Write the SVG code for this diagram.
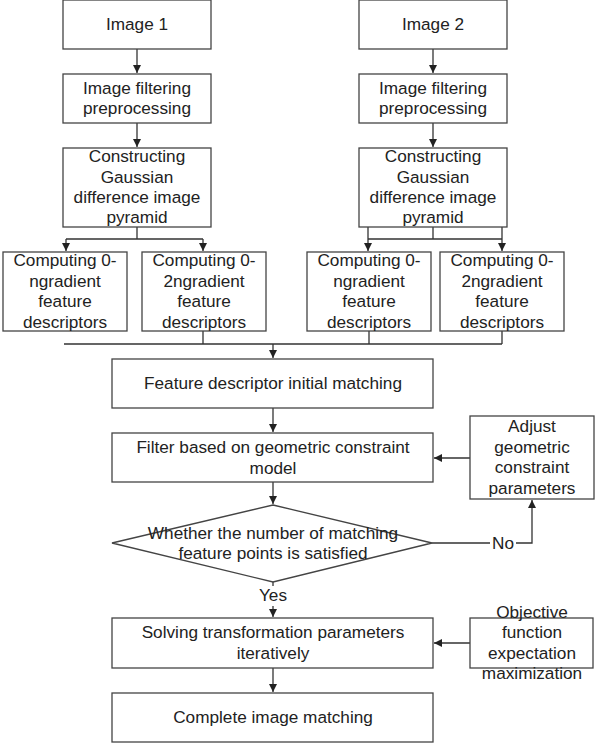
<svg xmlns="http://www.w3.org/2000/svg" width="599" height="747" viewBox="0 0 599 747">
<style>
.b{fill:#fff;stroke:#444;stroke-width:1.3}
.t{font-family:"Liberation Sans",Arial,sans-serif;font-size:17.2px;fill:#222;text-anchor:middle}
.c{fill:none;stroke:#333;stroke-width:1.3}
</style>
<defs>
<marker id="a" viewBox="0 0 10 10" refX="10" refY="5" markerWidth="8" markerHeight="8" markerUnits="userSpaceOnUse" orient="auto">
<path d="M0,0 L10,5 L0,10 Z" fill="#222"/>
</marker>
</defs>
<rect width="599" height="747" fill="#fff"/>
<g id="connectors">
<path class="c" d="M137,49 V73" marker-end="url(#a)"/>
<path class="c" d="M137,123 V147" marker-end="url(#a)"/>
<path class="c" d="M433,49 V73" marker-end="url(#a)"/>
<path class="c" d="M433,123 V147" marker-end="url(#a)"/>
<path class="c" d="M137,227 V239 M66,239 H203"/>
<path class="c" d="M66,239 V251" marker-end="url(#a)"/>
<path class="c" d="M203,239 V251" marker-end="url(#a)"/>
<path class="c" d="M433,227 V239 M368,239 H502"/>
<path class="c" d="M368,227 V251" marker-end="url(#a)"/>
<path class="c" d="M502,227 V251" marker-end="url(#a)"/>
<path class="c" d="M203,331 V344 M369,331 V344 M502,331 V344 M64,344 H502"/>
<path class="c" d="M273,344 V358" marker-end="url(#a)"/>
<path class="c" d="M273,408 V432" marker-end="url(#a)"/>
<path class="c" d="M470,458 H434" marker-end="url(#a)"/>
<path class="c" d="M273,482 V504" marker-end="url(#a)"/>
<path class="c" d="M432,543 H490 M516,543 H532 V500" marker-end="url(#a)"/>
<path class="c" d="M273,582 V586"/>
<path class="c" d="M273,606 V617" marker-end="url(#a)"/>
<path class="c" d="M470,643 H434" marker-end="url(#a)"/>
<path class="c" d="M273,668 V692" marker-end="url(#a)"/>
<text class="t" x="503" y="549">No</text>
<text class="t" x="273" y="601">Yes</text>
</g>
<g id="img1"><rect class="b" x="63" y="0" width="148" height="49"/><text class="t" x="137" y="30">Image 1</text></g>
<g id="img2"><rect class="b" x="359" y="0" width="148" height="49"/><text class="t" x="433" y="30">Image 2</text></g>
<g id="filt1"><rect class="b" x="63" y="74" width="148" height="49"/><text class="t" x="137" y="94">Image filtering</text><text class="t" x="137" y="114">preprocessing</text></g>
<g id="filt2"><rect class="b" x="359" y="74" width="148" height="49"/><text class="t" x="433" y="94">Image filtering</text><text class="t" x="433" y="114">preprocessing</text></g>
<g id="pyr1"><rect class="b" x="63" y="148" width="148" height="79"/><text class="t" x="137" y="162">Constructing</text><text class="t" x="137" y="182.5">Gaussian</text><text class="t" x="137" y="203">difference image</text><text class="t" x="137" y="223">pyramid</text></g>
<g id="pyr2"><rect class="b" x="359" y="148" width="148" height="79"/><text class="t" x="433" y="162">Constructing</text><text class="t" x="433" y="182.5">Gaussian</text><text class="t" x="433" y="203">difference image</text><text class="t" x="433" y="223">pyramid</text></g>
<g id="d1"><rect class="b" x="3" y="252" width="124" height="79"/><text class="t" x="65" y="266">Computing 0-</text><text class="t" x="65" y="286.5">ngradient</text><text class="t" x="65" y="307">feature</text><text class="t" x="65" y="327.5">descriptors</text></g>
<g id="d2"><rect class="b" x="142" y="252" width="124" height="79"/><text class="t" x="204" y="266">Computing 0-</text><text class="t" x="204" y="286.5">2ngradient</text><text class="t" x="204" y="307">feature</text><text class="t" x="204" y="327.5">descriptors</text></g>
<g id="d3"><rect class="b" x="307" y="252" width="124" height="79"/><text class="t" x="369" y="266">Computing 0-</text><text class="t" x="369" y="286.5">ngradient</text><text class="t" x="369" y="307">feature</text><text class="t" x="369" y="327.5">descriptors</text></g>
<g id="d4"><rect class="b" x="440" y="252" width="124" height="79"/><text class="t" x="502" y="266">Computing 0-</text><text class="t" x="502" y="286.5">2ngradient</text><text class="t" x="502" y="307">feature</text><text class="t" x="502" y="327.5">descriptors</text></g>
<g id="init"><rect class="b" x="112" y="359" width="321" height="49"/><text class="t" x="273" y="389">Feature descriptor initial matching</text></g>
<g id="filter"><rect class="b" x="112" y="433" width="321" height="49"/><text class="t" x="273" y="453">Filter based on geometric constraint</text><text class="t" x="273" y="474">model</text></g>
<g id="adjust"><rect class="b" x="470" y="416" width="124" height="83"/><text class="t" x="532" y="432">Adjust</text><text class="t" x="532" y="453">geometric</text><text class="t" x="532" y="473">constraint</text><text class="t" x="532" y="494">parameters</text></g>
<g id="decision"><polygon class="b" points="273,505 432,543 273,582 112,543"/><text class="t" x="273" y="539">Whether the number of matching</text><text class="t" x="273" y="559">feature points is satisfied</text></g>
<g id="solve"><rect class="b" x="112" y="618" width="321" height="50"/><text class="t" x="273" y="638">Solving transformation parameters</text><text class="t" x="273" y="659">iteratively</text></g>
<g id="objective"><rect class="b" x="470" y="618" width="123" height="50"/><text class="t" x="532" y="618">Objective</text><text class="t" x="532" y="638">function</text><text class="t" x="532" y="659">expectation</text><text class="t" x="532" y="679">maximization</text></g>
<g id="complete"><rect class="b" x="112" y="693" width="321" height="49"/><text class="t" x="273" y="723">Complete image matching</text></g>
</svg>
